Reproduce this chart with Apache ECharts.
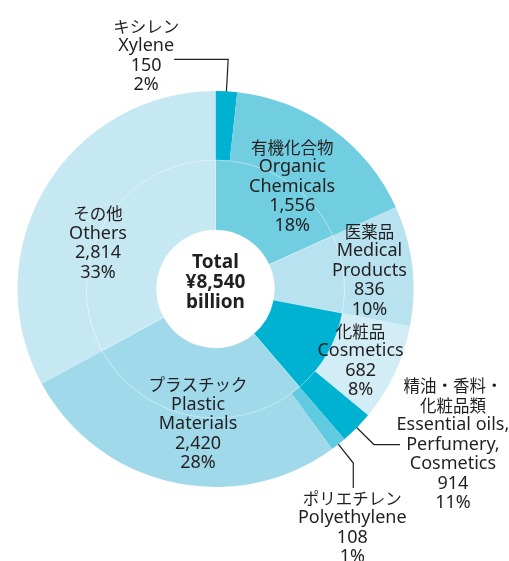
<!DOCTYPE html>
<html>
<head>
<meta charset="utf-8">
<script src="https://cdn.jsdelivr.net/npm/echarts@6/dist/echarts.min.js"></script>
<style>
html,body{margin:0;padding:0;background:#fff;}
#chart{width:509px;height:561px;}
</style>
</head>
<body>
<div id="chart"></div>
<script>
// ---- data ----
const categoriesJa = ['有機化合物', '医薬品', '精油・香料・\n化粧品類', 'プラスチック', 'その他'];
const categoriesEn = ['Organic\nChemicals', 'Medical\nProducts', 'Essential oils,\nPerfumery,\nCosmetics', 'Plastic\nMaterials', 'Others'];
const categoryValues = [1556, 836, 914, 2420, 2814];

const subJa = ['キシレン', '化粧品', 'ポリエチレン'];
const subEn = ['Xylene', 'Cosmetics', 'Polyethylene'];
const subValues = [150, 682, 108];
const subParent = [0, 2, 3];

const totalLabel = ['Total', 'billion'];

// ---- styling / layout ----
const C = [215.5, 289];
const R_HOLE = 59, R_MID = 129, R_OUT = 198;
const TXT = '#231f20';
const catColors = ['#71cde0', '#b8e2ef', '#00b2d2', '#9fd9ea', '#c6e8f3'];
const subColors = ['#00b2d2', '#d2edf5', '#5fcae0'];

const total = categoryValues.reduce((a, b) => a + b, 0);
const fmt = v => v.toLocaleString('en-US');
const pct = v => Math.round(v / total * 100) + '%';

function richText(ja, en, v) {
  const lines = [];
  ja.split('\n').forEach(s => lines.push('{j|' + s + '}'));
  en.split('\n').forEach(s => lines.push('{t|' + s + '}'));
  lines.push('{t|' + fmt(v) + '}');
  lines.push('{t|' + pct(v) + '}');
  return lines.join('\n');
}
function pol(deg, r) {
  const a = deg * Math.PI / 180;
  return [C[0] + r * Math.cos(a), C[1] - r * Math.sin(a)];
}
function mids(values) {
  const tot = values.reduce((a, b) => a + b, 0);
  let acc = 0;
  return values.map(v => { const m = 90 - (acc + v / 2) / tot * 360; acc += v; return m; });
}

const rich = {
  j: { fontFamily: 'Noto Sans CJK JP', fontSize: 16.5, lineHeight: 19.5, color: TXT, align: 'center' },
  t: { fontFamily: 'Noto Sans', fontSize: 18, lineHeight: 19.5, color: TXT, align: 'center' }
};

// outer ring: sub-items first, then remainder of each parent
const outerData = [];
const outerMeta = [];
categoryValues.forEach((v, i) => {
  let rest = v;
  subParent.forEach((p, k) => {
    if (p === i) {
      outerData.push({ value: subValues[k], name: subEn[k], itemStyle: { color: subColors[k] } });
      outerMeta.push({ kind: 'sub', k: k });
      rest -= subValues[k];
    }
  });
  outerData.push({ value: rest, name: categoriesEn[i] + ' (rest)', itemStyle: { color: catColors[i] } });
  outerMeta.push({ kind: 'rest', i: i });
});
const outerMids = mids(outerData.map(d => d.value));
const cosmeticsIdx = outerMeta.findIndex(m => m.kind === 'sub' && m.k === 1);

// inner ring (carries the in-ring labels; the Essential oils slot shows the Cosmetics sub-label)
const innerMids = mids(categoryValues);
const innerPlace = [
  { a: innerMids[0] - 4, r: 128 },
  { a: innerMids[1], r: 155 },
  { a: outerMids[cosmeticsIdx] - 1.2, r: 162 },
  { a: innerMids[3] + 3, r: 136 },
  { a: innerMids[4] + 9.5, r: 126 }
];
const innerData = categoryValues.map((v, i) => ({
  value: v,
  name: categoriesEn[i],
  itemStyle: { color: catColors[i] },
  label: {
    show: true,
    formatter: i === 2 ? richText(subJa[1], subEn[1], subValues[1]) : richText(categoriesJa[i], categoriesEn[i], v)
  }
}));

// outer items with leader-line labels
outerData.forEach((d, idx) => {
  const m = outerMeta[idx];
  if (m.kind === 'sub' && (m.k === 0 || m.k === 2)) {
    d.label = { show: true, position: 'outside', formatter: richText(subJa[m.k], subEn[m.k], subValues[m.k]) };
    d.labelLine = { show: true };
    m.lead = m.k === 0 ? 'xylene' : 'poly';
  } else if (m.kind === 'rest' && m.i === 2) {
    d.label = { show: true, position: 'outside', formatter: richText(categoriesJa[2], categoriesEn[2], categoryValues[2]) };
    d.labelLine = { show: true };
    m.lead = 'ess';
  } else {
    d.label = { show: false };
  }
});

function innerLayout(p) {
  const pl = innerPlace[p.dataIndex];
  const pt = pol(pl.a, pl.r);
  return { x: pt[0], y: pt[1], align: 'center', verticalAlign: 'middle' };
}
function outerLayout(p) {
  const m = outerMeta[p.dataIndex];
  const a = outerMids[p.dataIndex];
  if (m.lead === 'xylene') {
    const p0 = pol(a, 172), p1 = pol(a, 230), p2 = [p1[0] - 54, p1[1]];
    return { x: p2[0] - 28, y: p1[1] - 3.5, align: 'center', verticalAlign: 'middle', labelLinePoints: [p0, p1, p2] };
  }
  if (m.lead === 'ess') {
    const p0 = pol(a, 168), p1 = pol(a, 222), p2 = [p1[0] + 26, p1[1]];
    return { x: p2[0] + 53, y: p1[1], align: 'center', verticalAlign: 'middle', labelLinePoints: [p0, p1, p2] };
  }
  if (m.lead === 'poly') {
    const p0 = pol(a, 178), p1 = pol(a, 222), p2 = [p1[0], p1[1] + 25];
    return { x: p2[0] - 1, y: p2[1] + 1, align: 'center', verticalAlign: 'top', labelLinePoints: [p0, p1, p2] };
  }
  return {};
}

const chart = echarts.init(document.getElementById('chart'), null, { renderer: 'canvas' });
chart.setOption({
  animation: false,
  backgroundColor: '#ffffff',
  series: [
    {
      type: 'pie',
      z: 2,
      center: C,
      radius: [R_MID, R_OUT],
      startAngle: 90,
      clockwise: true,
      silent: true,
      avoidLabelOverlap: false,
      itemStyle: { borderWidth: 0 },
      label: { show: true, rich: rich, color: TXT },
      labelLine: { show: false, lineStyle: { color: TXT, width: 1.2 }, length: 20, length2: 20 },
      emphasis: { disabled: true },
      labelLayout: outerLayout,
      data: outerData
    },
    {
      type: 'pie',
      z: 3,
      center: C,
      radius: [R_HOLE, R_MID],
      startAngle: 90,
      clockwise: true,
      silent: true,
      avoidLabelOverlap: false,
      itemStyle: { borderColor: 'rgba(255,255,255,0.4)', borderWidth: 0.7 },
      label: { show: true, position: 'inside', rich: rich, color: TXT },
      labelLine: { show: false },
      emphasis: { disabled: true },
      labelLayout: innerLayout,
      data: innerData
    }
  ],
  graphic: [{
    type: 'text',
    x: C[0],
    y: C[1] - 6,
    z: 100,
    style: {
      text: totalLabel[0] + '\n¥' + fmt(total) + '\n' + totalLabel[1],
      align: 'center',
      verticalAlign: 'middle',
      font: 'bold 19px "Noto Sans", sans-serif',
      lineHeight: 20,
      fill: TXT
    }
  }]
});
</script>
</body>
</html>
